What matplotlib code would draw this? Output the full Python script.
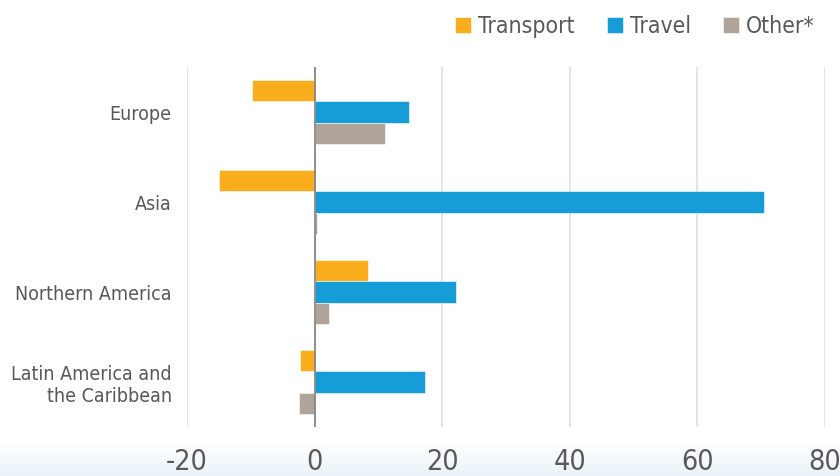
import matplotlib
matplotlib.use("Agg")
import matplotlib.pyplot as plt
import numpy as np
from matplotlib.colors import LinearSegmentedColormap

categories = ["Europe", "Asia", "Northern America", "Latin America and\nthe Caribbean"]
transport = [-9.8, -15.0, 8.4, -2.3]
travel = [14.8, 70.5, 22.1, 17.3]
other = [11.1, 0.4, 2.2, -2.5]
series_names = ["Transport", "Travel", "Other*"]
colors = ["#FAAE1E", "#169DD8", "#AFA39A"]
xticks = [-20, 0, 20, 40, 60, 80]

plt.rcParams['font.family'] = ['DejaVu Sans']
plt.rcParams['font.stretch'] = 'condensed'
text_color = "#595959"

fig = plt.figure(figsize=(8.4, 4.76), dpi=100)

# bottom gradient strip
bg = fig.add_axes([0, 0, 1, 0.07], zorder=0)
grad = np.linspace(0, 1, 50).reshape(-1, 1)
cmap = LinearSegmentedColormap.from_list("g", ["#e9f3f8", "#ffffff"])
bg.imshow(grad, aspect="auto", cmap=cmap, origin="lower", extent=[0, 1, 0, 1])
bg.axis("off")

ax = fig.add_axes([0.2226, 0.103, 0.7595, 0.756], zorder=1)
ax.patch.set_alpha(0)

y = np.arange(len(categories))
h = 0.24
for i, (vals, c, name) in enumerate(zip([transport, travel, other], colors, series_names)):
    ax.barh(y + (i - 1) * h, vals, height=h, color=c, label=name,
            edgecolor="#ffffff", linewidth=0.4, zorder=3)

ax.set_xlim(-20, 80)
ax.set_ylim(3.5, -0.5)
ax.set_xticks(xticks)
ax.set_xticklabels([str(t) for t in xticks])
ax.set_yticks(y)
ax.set_yticklabels(categories, linespacing=1.2)
ax.grid(axis="x", color="#e0e0e0", linewidth=1.2, zorder=0)
ax.axvline(0, color="#808080", linewidth=1.2, zorder=4)
for s in ax.spines.values():
    s.set_visible(False)
ax.tick_params(axis="both", length=0, colors=text_color)
ax.tick_params(axis="x", labelsize=20.5, pad=15)
ax.tick_params(axis="y", labelsize=14, pad=11)
for lbl in ax.get_yticklabels():
    lbl.set_horizontalalignment("right")

leg = fig.legend(loc="upper right", bbox_to_anchor=(0.994, 1.012), ncol=3, frameon=False,
                 fontsize=16.5, handlelength=0.7, handleheight=0.7, handletextpad=0.3,
                 columnspacing=1.4, labelcolor=text_color)

fig.savefig("out.png", dpi=100)
